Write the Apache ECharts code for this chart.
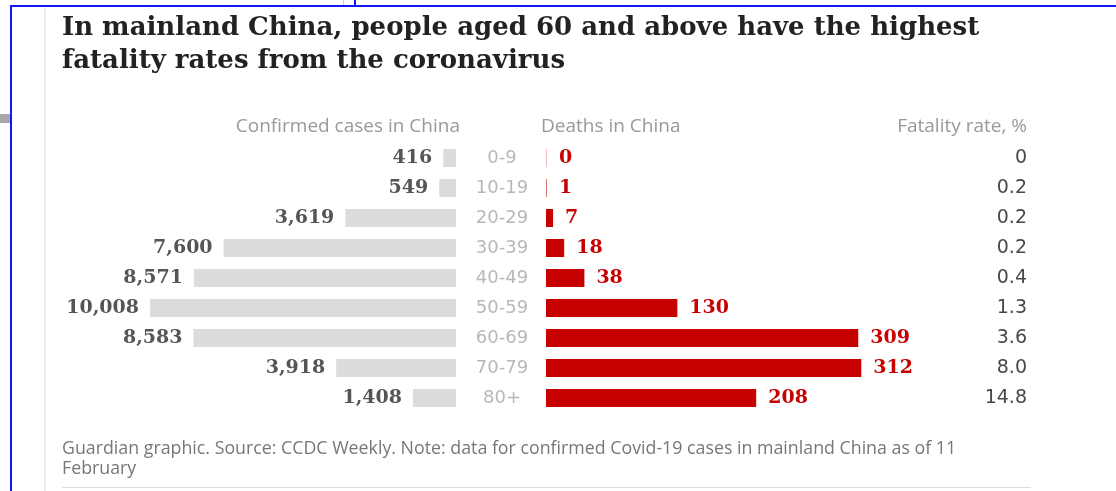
<!DOCTYPE html>
<html>
<head>
<meta charset="utf-8">
<script src="https://cdn.jsdelivr.net/npm/echarts@6/dist/echarts.min.js"></script>
<style>
html,body{margin:0;padding:0;background:#fff;}
#chart{width:1116px;height:491px;}
</style>
</head>
<body>
<div id="chart"></div>
<script>
const ages = ['0-9','10-19','20-29','30-39','40-49','50-59','60-69','70-79','80+'];
const confirmed = [416,549,3619,7600,8571,10008,8583,3918,1408];
const deaths = [0,1,7,18,38,130,309,312,208];
const fatality = ['0','0.2','0.2','0.2','0.4','1.3','3.6','8.0','14.8'];

const titleText = 'In mainland China, people aged 60 and above have the highest\nfatality rates from the coronavirus';
const footText = 'Guardian graphic. Source: CCDC Weekly. Note: data for confirmed Covid-19 cases in mainland China as of 11\nFebruary';

const SANS = "'Open Sans', 'Noto Sans', sans-serif";
const DSANS = "'DejaVu Sans', sans-serif";
const SERIF = "'DejaVu Serif', serif";
const RED = '#c70000';

const chart = echarts.init(document.getElementById('chart'), null, {renderer:'canvas'});

function txt(x, y, text, align, font, fill, extra) {
  return Object.assign({
    type: 'text', x: x, y: y, silent: true,
    style: { text: text, align: align, verticalAlign: 'middle', textAlign: align, textVerticalAlign: 'middle', font: font, fill: fill }
  }, extra || {});
}
function line(x1, y1, x2, y2, color, w) {
  return { type: 'line', silent: true, shape: {x1:x1, y1:y1, x2:x2, y2:y2}, style: {stroke: color, lineWidth: w} };
}

chart.setOption({
  animation: false,
  backgroundColor: '#fff',
  title: {
    left: 62, top: 12, padding: 0,
    text: titleText,
    textStyle: { fontFamily: SERIF, fontWeight: 'bold', fontSize: 26, lineHeight: 33, color: '#222' }
  },
  grid: [
    { left: 89, width: 367, top: 143, height: 270 },
    { left: 546, width: 481, top: 143, height: 270 }
  ],
  xAxis: [
    { gridIndex: 0, type: 'value', inverse: true, min: 0, max: 12000, show: false },
    { gridIndex: 1, type: 'value', min: 0, max: 476, show: false }
  ],
  yAxis: [
    { gridIndex: 0, type: 'category', data: ages, inverse: true, position: 'right',
      axisLine: {show:false}, axisTick: {show:false}, splitLine: {show:false},
      axisLabel: { align: 'center', margin: 46, color: '#b8b8b8', fontFamily: DSANS, fontSize: 18 } },
    { gridIndex: 1, type: 'category', data: ages, inverse: true, show: false },
    { gridIndex: 1, type: 'category', data: fatality, inverse: true, position: 'right',
      axisLine: {show:false}, axisTick: {show:false}, splitLine: {show:false},
      axisLabel: { inside: true, margin: 0, align: 'right', verticalAlign: 'middle', padding: [3,0,0,0],
        color: '#484848', fontFamily: DSANS, fontSize: 19 } }
  ],
  series: [
    { type: 'bar', xAxisIndex: 0, yAxisIndex: 0, data: confirmed, barWidth: 18,
      itemStyle: { color: '#dcdcdc' },
      label: { show: true, position: 'left', distance: 11,
        formatter: p => Number(p.value).toLocaleString('en-US'),
        fontFamily: SERIF, fontWeight: 'bold', fontSize: 19, color: '#555' } },
    { type: 'bar', xAxisIndex: 1, yAxisIndex: 1, barWidth: 18, barMinHeight: 1,
      data: deaths.map(v => v <= 1 ? { value: v, itemStyle: { color: v === 0 ? 'rgba(199,0,0,0.25)' : 'rgba(199,0,0,0.55)' } } : v),
      itemStyle: { color: RED },
      label: { show: true, position: 'right', distance: 12,
        fontFamily: SERIF, fontWeight: 'bold', fontSize: 19, color: RED } }
  ],
  graphic: [
    // screenshot frame artifacts
    line(10, 6, 1116, 6, '#1414ff', 2),
    line(11, 6, 11, 491, '#1414ff', 2),
    line(355, 0, 355, 6, '#1414ff', 2),
    line(343.5, 0, 343.5, 5, '#cfcfcf', 1),
    { type: 'rect', silent: true, shape: {x:0, y:114, width:10, height:9}, style: {fill: '#a8a8a8'} },
    line(45, 8, 45, 491, '#ececec', 2),
    // column headers
    txt(460, 127, 'Confirmed cases in China', 'right', '19px ' + SANS, '#999'),
    txt(541, 127, 'Deaths in China', 'left', '19px ' + SANS, '#999'),
    txt(1027, 127, 'Fatality rate, %', 'right', '19px ' + SANS, '#999'),
    // footer
    { type: 'text', x: 62, y: 439, silent: true,
      style: { text: footText, font: '17.8px ' + SANS, fill: '#777', lineHeight: 20 } },
    line(62, 487.5, 1031, 487.5, '#dedede', 1)
  ]
});
</script>
</body>
</html>
